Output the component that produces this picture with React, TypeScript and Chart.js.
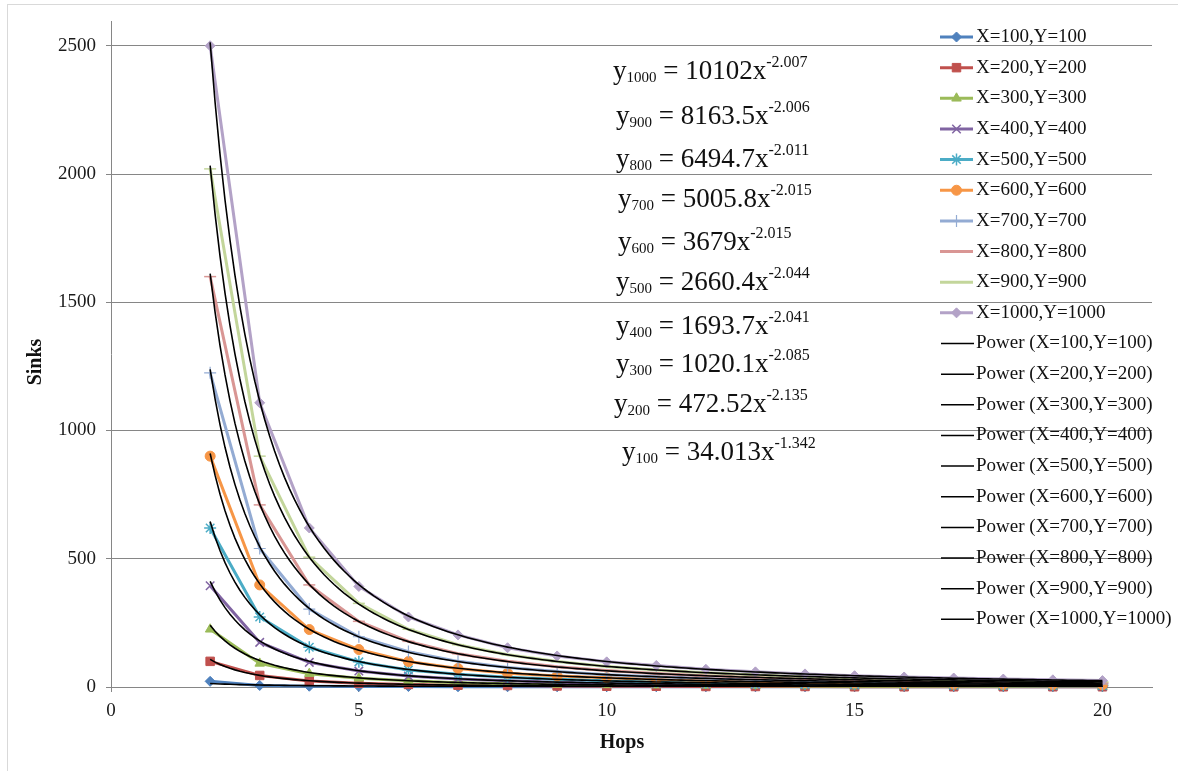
import React, { useEffect, useRef } from 'react';
import { Chart, registerables } from 'chart.js';
import { drawPoint } from 'chart.js/helpers';

Chart.register(...registerables);

const hops = [2, 3, 4, 5, 6, 7, 8, 9, 10, 11, 12, 13, 14, 15, 16, 17, 18, 19, 20];

const s100 = [22, 6, 3, 2, 2, 1, 1, 1, 1, 1, 1, 1, 1, 1, 1, 1, 1, 1, 1];
const s200 = [100, 45, 23, 15, 10, 7, 6, 4, 3, 3, 2, 2, 2, 1, 1, 1, 1, 1, 1];
const s300 = [225, 92, 52, 34, 24, 17, 13, 10, 8, 7, 6, 5, 4, 3, 3, 3, 2, 2, 2];
const s400 = [395, 174, 96, 62, 43, 31, 24, 19, 15, 13, 11, 9, 8, 7, 6, 5, 5, 4, 4];
const s500 = [620, 273, 155, 98, 66, 50, 38, 30, 24, 20, 17, 14, 12, 11, 9, 8, 7, 7, 6];
const s600 = [900, 398, 224, 146, 99, 72, 54, 43, 36, 30, 25, 21, 18, 16, 14, 12, 11, 10, 9];
const s700 = [1225, 540, 304, 196, 138, 100, 76, 60, 48, 40, 34, 29, 25, 22, 19, 17, 15, 13, 12];
const s800 = [1600, 710, 398, 256, 178, 130, 100, 79, 64, 53, 44, 38, 33, 28, 25, 22, 20, 18, 16];
const s900 = [2020, 900, 506, 326, 225, 165, 126, 99, 80, 66, 56, 48, 41, 36, 32, 28, 25, 22, 20];
const s1000 = [2500, 1108, 620, 392, 273, 203, 153, 121, 98, 84, 69, 59, 51, 44, 39, 35, 31, 28, 25];

const seriesValues = [s100, s200, s300, s400, s500, s600, s700, s800, s900, s1000];
const seriesNames = [
  'X=100,Y=100', 'X=200,Y=200', 'X=300,Y=300', 'X=400,Y=400', 'X=500,Y=500',
  'X=600,Y=600', 'X=700,Y=700', 'X=800,Y=800', 'X=900,Y=900', 'X=1000,Y=1000',
];
const trendNames = seriesNames.map((n) => `Power (${n})`);

// Power trendline coefficients as printed on the chart: y = a * x^b
const trendA = [34.013, 472.52, 1020.1, 1693.7, 2660.4, 3679, 5005.8, 6494.7, 8163.5, 10102];
const trendB = [-1.342, -2.135, -2.085, -2.041, -2.044, -2.015, -2.015, -2.011, -2.006, -2.007];

const eqSubs = ['1000', '900', '800', '700', '600', '500', '400', '300', '200', '100'];
const eqCoefs = ['10102', '8163.5', '6494.7', '5005.8', '3679', '2660.4', '1693.7', '1020.1', '472.52', '34.013'];
const eqExps = ['-2.007', '-2.006', '-2.011', '-2.015', '-2.015', '-2.044', '-2.041', '-2.085', '-2.135', '-1.342'];

const yTicks = [0, 500, 1000, 1500, 2000, 2500];
const xTicks = [0, 5, 10, 15, 20];

const colors = ['#4F81BD', '#C0504D', '#9BBB59', '#8064A2', '#4BACC6', '#F79646', '#93ABD3', '#D99694', '#C3D69B', '#B3A2C7'];
const pointStyles = ['rectRot', 'rect', 'triangle', 'crossRot', 'star', 'circle', 'cross', 'line', 'line', 'rectRot'];
const pointRadii = [5, 6, 5.5, 6, 6, 5, 6, 6, 6, 5];
const pointBorders = [1, 1, 1, 1.5, 1.5, 1, 1.2, 1.5, 1.5, 1];

const FONT = '"Liberation Serif", "Times New Roman", serif';

const eqLefts = [613, 616, 616, 618, 618, 616, 616, 616, 614, 622];
const eqBaselines = [79, 124, 167, 207, 250, 290, 334, 372, 412, 460];

function drawEquation(ctx: CanvasRenderingContext2D, x: number, base: number, sub: string, coef: string, exp: string) {
  ctx.fillStyle = '#111';
  ctx.textBaseline = 'alphabetic';
  ctx.textAlign = 'left';
  ctx.font = `27px ${FONT}`;
  ctx.fillText('y', x, base);
  x += ctx.measureText('y').width;
  ctx.font = `15px ${FONT}`;
  ctx.fillText(sub, x, base + 3);
  x += ctx.measureText(sub).width;
  ctx.font = `27px ${FONT}`;
  const mid = ` = ${coef}x`;
  ctx.fillText(mid, x, base);
  x += ctx.measureText(mid).width;
  ctx.font = `16px ${FONT}`;
  ctx.fillText(exp, x, base - 12);
}

const overlayPlugin = {
  id: 'overlay',
  beforeDraw(chart: any) {
    const ctx = chart.ctx as CanvasRenderingContext2D;
    ctx.save();
    ctx.fillStyle = '#ffffff';
    ctx.fillRect(0, 0, chart.width, chart.height);
    ctx.strokeStyle = '#d9d9d9';
    ctx.lineWidth = 1;
    ctx.strokeRect(7.5, 4.5, chart.width + 10, chart.height + 10);
    ctx.restore();
  },
  afterDraw(chart: any) {
    const ctx = chart.ctx as CanvasRenderingContext2D;
    ctx.save();
    // equations
    for (let i = 0; i < eqSubs.length; i++) {
      drawEquation(ctx, eqLefts[i], eqBaselines[i], eqSubs[i], eqCoefs[i], eqExps[i]);
    }
    // legend
    const rowStart = 37;
    const rowGap = 30.65;
    ctx.font = `19px ${FONT}`;
    ctx.textBaseline = 'middle';
    ctx.textAlign = 'left';
    for (let i = 0; i < 10; i++) {
      const y = rowStart + i * rowGap;
      ctx.strokeStyle = colors[i];
      ctx.lineWidth = 3;
      ctx.beginPath();
      ctx.moveTo(940, y);
      ctx.lineTo(973, y);
      ctx.stroke();
      ctx.fillStyle = colors[i];
      ctx.strokeStyle = colors[i];
      ctx.lineWidth = pointBorders[i];
      drawPoint(ctx, { pointStyle: pointStyles[i] as any, radius: pointRadii[i], rotation: 0, borderWidth: pointBorders[i] }, 956.5, y);
      ctx.fillStyle = '#111';
      ctx.font = `19px ${FONT}`;
      ctx.fillText(seriesNames[i], 976, y);
    }
    for (let i = 0; i < 10; i++) {
      const y = rowStart + (i + 10) * rowGap;
      ctx.strokeStyle = '#000';
      ctx.lineWidth = 1.5;
      ctx.beginPath();
      ctx.moveTo(941, y);
      ctx.lineTo(974, y);
      ctx.stroke();
      ctx.fillStyle = '#111';
      ctx.fillText(trendNames[i], 976, y);
    }
    // axis titles
    ctx.font = `bold 20px ${FONT}`;
    ctx.textAlign = 'center';
    ctx.textBaseline = 'middle';
    ctx.fillText('Hops', 622, 743);
    ctx.translate(36, 362);
    ctx.rotate(-Math.PI / 2);
    ctx.fillText('Sinks', 0, 0);
    ctx.restore();
  },
};

export default function App() {
  const ref = useRef<HTMLCanvasElement>(null);
  useEffect(() => {
    document.body.style.margin = '0';
    const canvas = ref.current;
    if (!canvas) return;

    const dataSets: any[] = seriesValues.map((vals, i) => ({
      label: seriesNames[i],
      data: hops.map((x, j) => ({ x, y: vals[j] })),
      borderColor: colors[i],
      backgroundColor: colors[i],
      borderWidth: 3,
      pointStyle: pointStyles[i],
      pointRadius: pointRadii[i],
      pointBorderWidth: pointBorders[i],
      pointBackgroundColor: colors[i],
      pointBorderColor: colors[i],
      tension: 0,
      clip: false,
      order: 20 - i,
    }));

    const trendSets: any[] = trendA.map((a, i) => {
      const pts: { x: number; y: number }[] = [];
      for (let k = 0; k <= 180; k++) {
        const x = hops[0] + k * 0.1;
        pts.push({ x, y: a * Math.pow(x, trendB[i]) });
      }
      return {
        label: trendNames[i],
        data: pts,
        borderColor: '#000000',
        backgroundColor: '#000000',
        borderWidth: 1.6,
        pointRadius: 0,
        tension: 0,
        order: 0,
      };
    });

    const chart = new Chart(canvas, {
      type: 'line',
      data: { datasets: [...trendSets, ...dataSets] },
      options: {
        animation: false,
        responsive: false,
        devicePixelRatio: 1,
        layout: { padding: { left: 0, right: 26, top: 21, bottom: 0 } },
        plugins: {
          legend: { display: false },
          tooltip: { enabled: false },
        },
        scales: {
          x: {
            type: 'linear',
            min: 0,
            max: 21,
            afterFit(scale: any) {
              scale.height = 84;
            },
            afterBuildTicks(scale: any) {
              scale.ticks = xTicks.map((v) => ({ value: v }));
            },
            ticks: {
              stepSize: 5,
              padding: 8,
              color: '#1a1a1a',
              font: { family: FONT, size: 19 },
              maxRotation: 0,
              callback: (v: any) => String(v),
            },
            grid: {
              drawOnChartArea: false,
              drawTicks: true,
              tickLength: 5,
              color: '#868686',
            },
            border: { display: true, color: '#868686', width: 1 },
          },
          y: {
            type: 'linear',
            min: 0,
            max: 2595,
            afterFit(scale: any) {
              scale.width = 111;
            },
            afterBuildTicks(scale: any) {
              scale.ticks = yTicks.map((v) => ({ value: v }));
            },
            ticks: {
              stepSize: 500,
              padding: 10,
              color: '#1a1a1a',
              font: { family: FONT, size: 19 },
              callback: (v: any) => String(v),
            },
            grid: {
              drawOnChartArea: true,
              drawTicks: true,
              tickLength: 5,
              color: '#868686',
            },
            border: { display: true, color: '#868686', width: 1 },
          },
        },
      },
      plugins: [overlayPlugin],
    } as any);
    return () => chart.destroy();
  }, []);
  return <canvas ref={ref} width={1178} height={771} style={{ display: 'block' }} />;
}
